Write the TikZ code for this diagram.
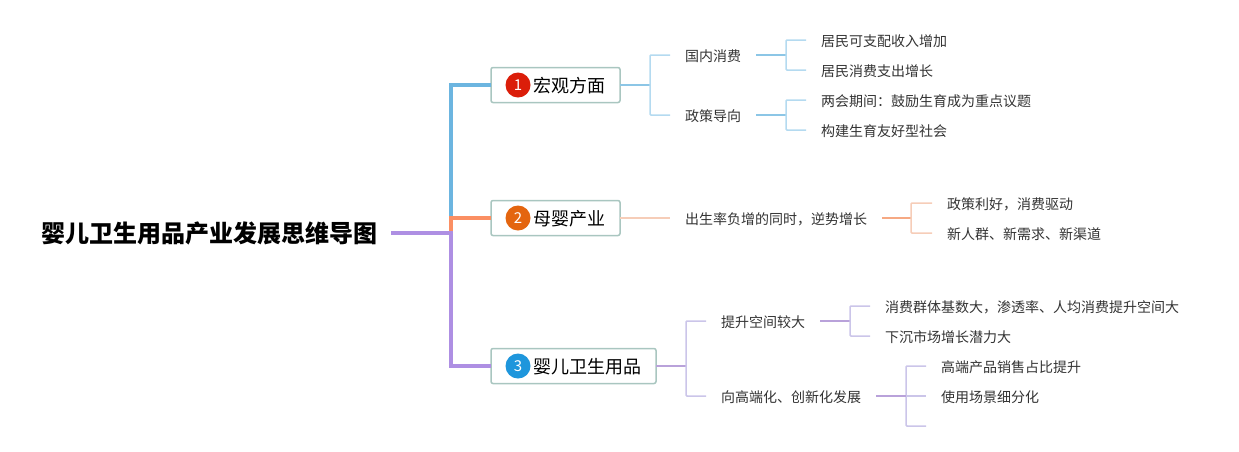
\documentclass[tikz,border=0pt]{standalone}
\usepackage{xcolor}
\usepackage{fontspec}
\setmainfont{Noto Sans CJK SC}
\usepackage{tikz}
\usetikzlibrary{arrows.meta,positioning,calc}
\definecolor{mapBlue}{HTML}{6CB5E0}
\definecolor{mapBlueMid}{HTML}{8CC6E6}
\definecolor{mapBlueLow}{HTML}{B4DAF0}
\definecolor{mapOrange}{HTML}{FB8F63}
\definecolor{mapOrangeMid}{HTML}{F6A983}
\definecolor{mapOrangeLow}{HTML}{F6CDB8}
\definecolor{mapPurple}{HTML}{AE8FE3}
\definecolor{mapPurpleMid}{HTML}{B9A2DA}
\definecolor{mapPurpleLow}{HTML}{CBC5E9}
\definecolor{mapBorder}{HTML}{A9C6C0}
\definecolor{mapText}{HTML}{333333}
\definecolor{badgeRed}{HTML}{DB1E0A}
\definecolor{badgeOrange}{HTML}{E4650F}
\definecolor{badgeBlue}{HTML}{1E96DC}
\newcommand{\wcomma}{\symbol{"FF0C}}
\newcommand{\wcolon}{\symbol{"FF1A}}
\begin{document}
\begin{tikzpicture}[x=1pt, y=-1pt,
  every node/.style={outer sep=0pt},
  title/.style={anchor=west, inner xsep=14pt, inner ysep=0pt, font=\fontsize{24}{28}\selectfont\bfseries},
  mainbox/.style={anchor=west, draw=mapBorder, fill=white, line width=1.5pt, rounded corners=2pt, inner xsep=15pt, minimum height=35pt, inner ysep=0pt, text height=17pt, text depth=2pt, font=\fontsize{18}{22}\selectfont},
  badge/.style={circle, minimum size=25pt, inner sep=0pt, text=white, font=\fontsize{15}{18}\selectfont},
  item/.style={anchor=west, inner xsep=15pt, inner ysep=0pt, text height=15.5pt, text depth=2pt, text=mapText, font=\fontsize{14}{18}\selectfont},
  trunk/.style={line width=4.5pt},
  stem/.style={line width=2pt},
  twig/.style={line width=1.5pt, rounded corners=1pt}]
\useasboundingbox (0,0) rectangle (1239,451);
% ---------- root ----------
\node[title] (root) at (27,233) {婴儿卫生用品产业发展思维导图};
% ---------- main topics ----------
\node[mainbox] (macro) at (491,85) {\hspace*{27pt}宏观方面};
\node[badge, fill=badgeRed] (macroNo) at ([xshift=27pt]macro.west) {1};
\node[mainbox] (mother) at (491,218) {\hspace*{27pt}母婴产业};
\node[badge, fill=badgeOrange] (motherNo) at ([xshift=27pt]mother.west) {2};
\node[mainbox] (hygiene) at (491,366) {\hspace*{27pt}婴儿卫生用品};
\node[badge, fill=badgeBlue] (hygieneNo) at ([xshift=27pt]hygiene.west) {3};
\draw[trunk, mapBlue] (root.east) -- ++(60,0) |- (macro.west);
\draw[trunk, mapOrange] (root.east) -- ++(60,0) |- (mother.west);
\draw[trunk, mapPurple] (root.east) -- ++(60,0) |- (hygiene.west);
% ---------- macro branch ----------
\node[item] (domestic) at (670,55) {国内消费};
\node[item] (policy) at (670,115) {政策导向};
\node[item] (income) at (806,40) {居民可支配收入增加};
\node[item] (spending) at (806,70) {居民消费支出增长};
\node[item] (session) at (806,100) {两会期间\wcolon 鼓励生育成为重点议题};
\node[item] (society) at (806,130) {构建生育友好型社会};
\draw[stem, mapBlueMid, line width=1.5pt] (macro.east) -- ++(30,0);
\draw[twig, mapBlueLow] (macro.east) ++(30,0) |- (domestic.west);
\draw[twig, mapBlueLow] (macro.east) ++(30,0) |- (policy.west);
\draw[stem, mapBlueMid] (domestic.east) -- ++(30,0);
\draw[twig, mapBlueLow] (domestic.east) ++(30,0) |- (income.west);
\draw[twig, mapBlueLow] (domestic.east) ++(30,0) |- (spending.west);
\draw[stem, mapBlueMid] (policy.east) -- ++(30,0);
\draw[twig, mapBlueLow] (policy.east) ++(30,0) |- (session.west);
\draw[twig, mapBlueLow] (policy.east) ++(30,0) |- (society.west);
% ---------- mother and baby branch ----------
\node[item] (birth) at (670,218) {出生率负增的同时\wcomma 逆势增长};
\node[item] (favour) at (932,203) {政策利好\wcomma 消费驱动};
\node[item] (newer) at (932,233) {新人群、新需求、新渠道};
\draw[twig, mapOrangeLow] (mother.east) -- (birth.west);
\draw[stem, mapOrangeMid] (birth.east) -- ++(29,0);
\draw[twig, mapOrangeLow] (birth.east) ++(29,0) |- (favour.west);
\draw[twig, mapOrangeLow] (birth.east) ++(29,0) |- (newer.west);
% ---------- hygiene branch ----------
\node[item] (room) at (706,321) {提升空间较大};
\node[item] (upscale) at (706,396) {向高端化、创新化发展};
\node[item] (base) at (870,306) {消费群体基数大\wcomma 渗透率、人均消费提升空间大};
\node[item] (sink) at (870,336) {下沉市场增长潜力大};
\node[item] (share) at (926,366) {高端产品销售占比提升};
\node[item] (scene) at (926,396) {使用场景细分化};
\coordinate (blank) at (926,426);
\draw[stem, mapPurpleMid, line width=1.5pt] (hygiene.east) -- ++(30,0);
\draw[twig, mapPurpleLow] (hygiene.east) ++(30,0) |- (room.west);
\draw[twig, mapPurpleLow] (hygiene.east) ++(30,0) |- (upscale.west);
\draw[stem, mapPurpleMid] (room.east) -- ++(30,0);
\draw[twig, mapPurpleLow] (room.east) ++(30,0) |- (base.west);
\draw[twig, mapPurpleLow] (room.east) ++(30,0) |- (sink.west);
\draw[twig, mapPurpleLow] (upscale.east) ++(30,0) |- (share.west);
\draw[twig, mapPurpleLow] (upscale.east) ++(30,0) -- (scene.west);
\draw[twig, mapPurpleLow] (upscale.east) ++(30,0) |- (blank);
\draw[stem, mapPurpleMid] (upscale.east) -- ++(30,0);
\end{tikzpicture}
\end{document}
